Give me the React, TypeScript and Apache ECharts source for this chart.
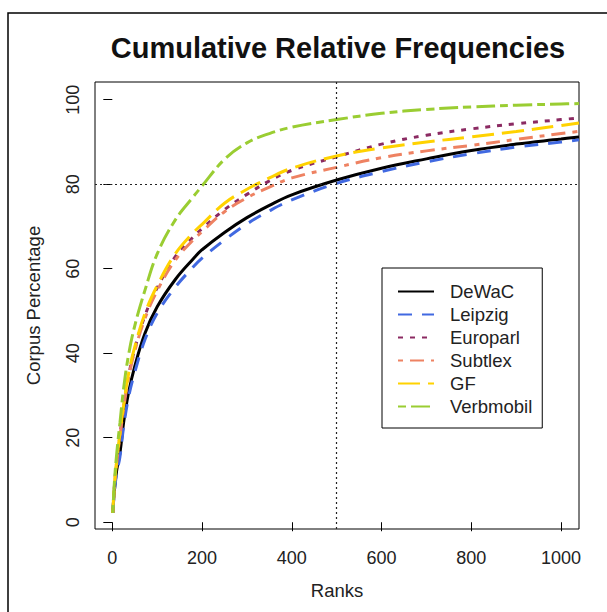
import React, { useEffect, useRef } from "react";
import * as echarts from "echarts";

const ranks = [1, 5, 10, 17, 25, 36, 50, 73, 100, 140, 180, 200, 250, 300, 350, 400, 500, 600, 700, 800, 900, 1000, 1040];
const dewac = [2.2, 8, 12.5, 16.4, 23.5, 30.6, 36.9, 44.8, 51, 57.4, 62.3, 64.5, 68.6, 72.1, 75.0, 77.5, 81, 83.8, 86, 88, 89.5, 90.7, 91.2];
const leipzig = [2.2, 7.6, 11.8, 15.5, 22.5, 29.5, 35.5, 43.3, 49.5, 55.6, 60.4, 62.5, 66.8, 70.6, 73.7, 76.3, 80.2, 83, 85.3, 87.2, 88.8, 90, 90.5];
const europarl = [2.2, 9, 14.5, 20.5, 27, 34.5, 41, 49, 55.5, 62.8, 67.5, 69.5, 74, 77.6, 80.8, 83.3, 86.5, 89.5, 91.6, 93.1, 94.3, 95.3, 95.7];
const subtlex = [2.2, 8.9, 14.3, 20.3, 26.7, 34, 40.5, 48.3, 54.8, 62, 66.8, 68.8, 73.5, 76.8, 79.3, 81.5, 84, 86.3, 87.9, 89.2, 90.6, 92, 92.5];
const gf = [2.2, 9.2, 14.8, 21, 27.5, 35, 41.5, 49.5, 56, 63.5, 68.5, 70.5, 75.5, 78.8, 81.5, 83.8, 86.7, 88.6, 90, 91.2, 92.5, 93.9, 94.5];
const verbmobil = [2.2, 10, 16.5, 23.5, 31.5, 39.5, 46.5, 55, 63.5, 71.5, 77, 79.6, 85.9, 89.8, 92.0, 93.5, 95.3, 96.8, 97.7, 98.3, 98.7, 99.0, 99.1];

const xTicks = [0, 200, 400, 600, 800, 1000];
const yTicks = [0, 20, 40, 60, 80, 100];
const refX = 500;
const refY = 80;

const seriesDefs = [
  { name: "DeWaC", values: dewac, color: "#000000", dash: "solid" as any },
  { name: "Leipzig", values: leipzig, color: "#4169E1", dash: [14, 10] },
  { name: "Europarl", values: europarl, color: "#8B2A62", dash: [5, 7] },
  { name: "Subtlex", values: subtlex, color: "#EE8262", dash: [5, 7, 14, 7] },
  { name: "GF", values: gf, color: "#FFD200", dash: [22, 8] },
  { name: "Verbmobil", values: verbmobil, color: "#9ACD32", dash: [8, 5, 19, 5] },
];

const FONT = "'Liberation Sans', Arial, sans-serif";

export default function App() {
  const ref = useRef<HTMLDivElement>(null);
  useEffect(() => {
    document.body.style.margin = "0";
    const chart = echarts.init(ref.current!, null, { renderer: "svg" });
    const series: any[] = seriesDefs.map((s) => ({
      name: s.name,
      type: "line",
      data: ranks.map((r, i) => [r, s.values[i]]),
      symbol: "none",
      smooth: 0.4,
      clip: true,
      lineStyle: { color: s.color, width: 3, type: s.dash, cap: "butt" },
      itemStyle: { color: s.color },
    }));
    series[0].markLine = {
      silent: true,
      symbol: "none",
      label: { show: false },
      lineStyle: { color: "#222", width: 1.2, type: [2, 3] },
      data: [{ xAxis: refX }, { yAxis: refY }],
    };
    chart.setOption({
      animation: false,
      backgroundColor: "#ffffff",
      title: {
        text: "Cumulative Relative Frequencies",
        left: 333,
        top: 28,
        textAlign: "center",
        textStyle: { fontFamily: FONT, fontSize: 29, fontWeight: "bold", color: "#111" },
      },
      graphic: [
        {
          type: "rect",
          shape: { x: 8, y: 13, width: 700, height: 700 },
          style: { fill: "none", stroke: "#000", lineWidth: 1.5 },
          silent: true,
        },
      ],
      legend: {
        orient: "vertical",
        left: 382,
        top: 268,
        padding: [14, 10, 12, 15],
        borderColor: "#000",
        borderWidth: 1,
        itemWidth: 36,
        itemHeight: 14,
        itemGap: 4,
        itemStyle: { opacity: 0 },
        textStyle: { fontFamily: FONT, fontSize: 18.5, color: "#222", padding: [0, 0, 0, 11] },
        data: seriesDefs.map((s) => s.name),
      },
      grid: {
        left: 95,
        top: 82,
        width: 484,
        height: 447,
        show: true,
        borderColor: "#000",
        borderWidth: 1,
        containLabel: false,
      },
      xAxis: {
        type: "value",
        min: -38.6,
        max: 1040,
        name: "Ranks",
        nameLocation: "middle",
        nameGap: 52,
        nameTextStyle: { fontFamily: FONT, fontSize: 18.5, color: "#222" },
        axisLine: { show: false },
        splitLine: { show: false },
        axisTick: { show: true, inside: false, length: 9, customValues: xTicks, lineStyle: { color: "#000" } },
        axisLabel: { customValues: xTicks, margin: 20, fontFamily: FONT, fontSize: 18, color: "#222", formatter: (v: number) => String(v) },
      },
      yAxis: {
        type: "value",
        min: -1.6,
        max: 104.2,
        name: "Corpus Percentage",
        nameLocation: "middle",
        nameGap: 52,
        nameRotate: 90,
        nameTextStyle: { fontFamily: FONT, fontSize: 18.5, color: "#222" },
        axisLine: { show: false },
        splitLine: { show: false },
        axisTick: { show: true, inside: false, length: 9, customValues: yTicks, lineStyle: { color: "#000" } },
        axisLabel: { customValues: yTicks, rotate: 90, margin: 13, fontFamily: FONT, fontSize: 18, color: "#222", formatter: (v: number) => String(v) },
      },
      series,
    });
    return () => chart.dispose();
  }, []);
  return <div ref={ref} style={{ width: 607, height: 612 }} />;
}
